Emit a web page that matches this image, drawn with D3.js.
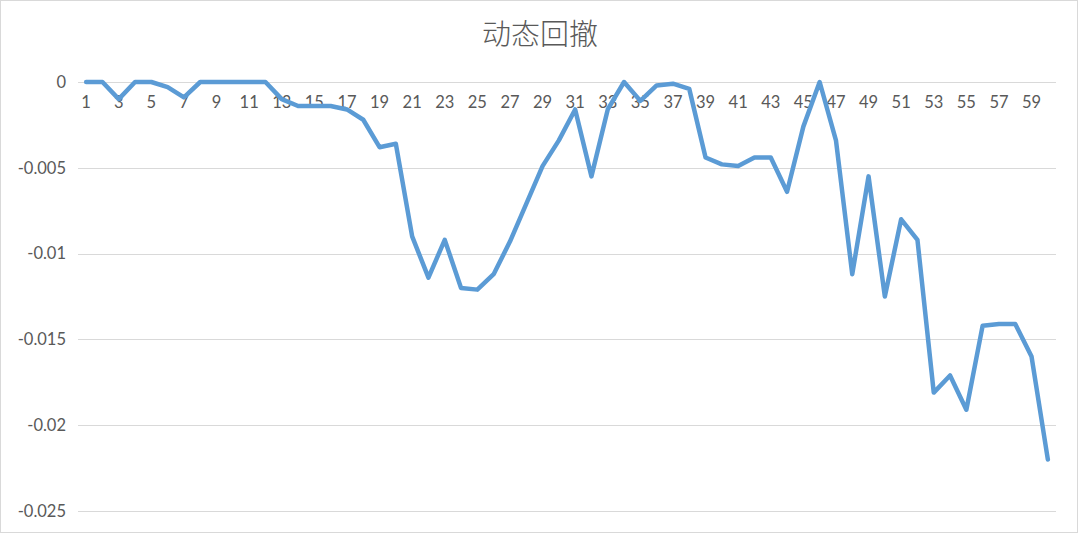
<!DOCTYPE html>
<html>
<head>
<meta charset="utf-8">
<script src="https://cdn.jsdelivr.net/npm/d3@7"></script>
<style>
  html, body { margin: 0; padding: 0; background: #fff; }
  svg { display: block; }
</style>
</head>
<body>
<svg id="chart" width="1080" height="535"></svg>
<script>
// Drawdown series, one value per period
const periods = d3.range(1, 61);
const drawdown = [
  0, 0, -0.0010, 0, 0, -0.0003, -0.0009, 0, 0, 0,
  0, 0, -0.0010, -0.0014, -0.0014, -0.0014, -0.0016, -0.0022, -0.0038, -0.0036,
  -0.0090, -0.0114, -0.0092, -0.0120, -0.0121, -0.0112, -0.0093, -0.0071, -0.0049, -0.0034,
  -0.0016, -0.0055, -0.0016, 0, -0.0011, -0.0002, -0.0001, -0.0004, -0.0044, -0.0048,
  -0.0049, -0.0044, -0.0044, -0.0064, -0.0026, 0, -0.0034, -0.0112, -0.0055, -0.0125,
  -0.0080, -0.0092, -0.0181, -0.0171, -0.0191, -0.0142, -0.0141, -0.0141, -0.0160, -0.0220
];
const yTicks = [0, -0.005, -0.01, -0.015, -0.02, -0.025];
const title = "动态回撤";

const svg = d3.select("#chart");
const W = 1080, H = 535;
const margin = { left: 78, right: 24, top: 82, bottom: 24 };

// outer frame
svg.append("rect")
  .attr("x", 0.5).attr("y", 0.5)
  .attr("width", W - 3).attr("height", H - 3)
  .attr("fill", "#fff").attr("stroke", "#d9d9d9");

const x = d3.scaleBand()
  .domain(periods)
  .range([margin.left, W - margin.right]);

const y = d3.scaleLinear()
  .domain([0, -0.025])
  .range([82, 511]);

const textColor = "#595959";
const numFont = "Lato, 'Open Sans', sans-serif";

// horizontal gridlines
svg.append("g")
  .selectAll("line")
  .data(yTicks)
  .join("line")
  .attr("x1", margin.left).attr("x2", W - margin.right)
  .attr("y1", d => Math.round(y(d)) + 0.5).attr("y2", d => Math.round(y(d)) + 0.5)
  .attr("stroke", "#d9d9d9").attr("stroke-width", 1.2);

// y axis labels
const yAxis = d3.axisLeft(y)
  .tickValues(yTicks)
  .tickSize(0)
  .tickPadding(12)
  .tickFormat(d => d === 0 ? "0" : String(d));
const gy = svg.append("g")
  .attr("transform", `translate(${margin.left},0)`)
  .call(yAxis);
gy.select(".domain").remove();
gy.selectAll("text")
  .attr("fill", textColor)
  .style("font-family", numFont)
  .style("font-size", "16.5px");

// category labels hang just under the zero line
const xAxis = d3.axisBottom(x)
  .tickValues(periods.filter(p => p % 2 === 1))
  .tickSize(0)
  .tickPadding(14);
const gx = svg.append("g")
  .attr("transform", `translate(0,${y(0)})`)
  .call(xAxis);
gx.select(".domain").remove();
gx.selectAll("text")
  .attr("fill", textColor)
  .style("font-family", numFont)
  .style("font-size", "16.5px");

// drawdown line
const line = d3.line()
  .x((d, i) => x(periods[i]) + x.bandwidth() / 2)
  .y(d => y(d));
svg.append("path")
  .datum(drawdown)
  .attr("d", line)
  .attr("fill", "none")
  .attr("stroke", "#5b9bd5")
  .attr("stroke-width", 4.5)
  .attr("stroke-linejoin", "round")
  .attr("stroke-linecap", "round");

// title
svg.append("text")
  .attr("x", 540).attr("y", 45)
  .attr("text-anchor", "middle")
  .attr("fill", textColor)
  .style("font-family", "'Noto Sans CJK SC', sans-serif")
  .style("font-weight", 300)
  .style("font-size", "29px")
  .text(title);
</script>
</body>
</html>
